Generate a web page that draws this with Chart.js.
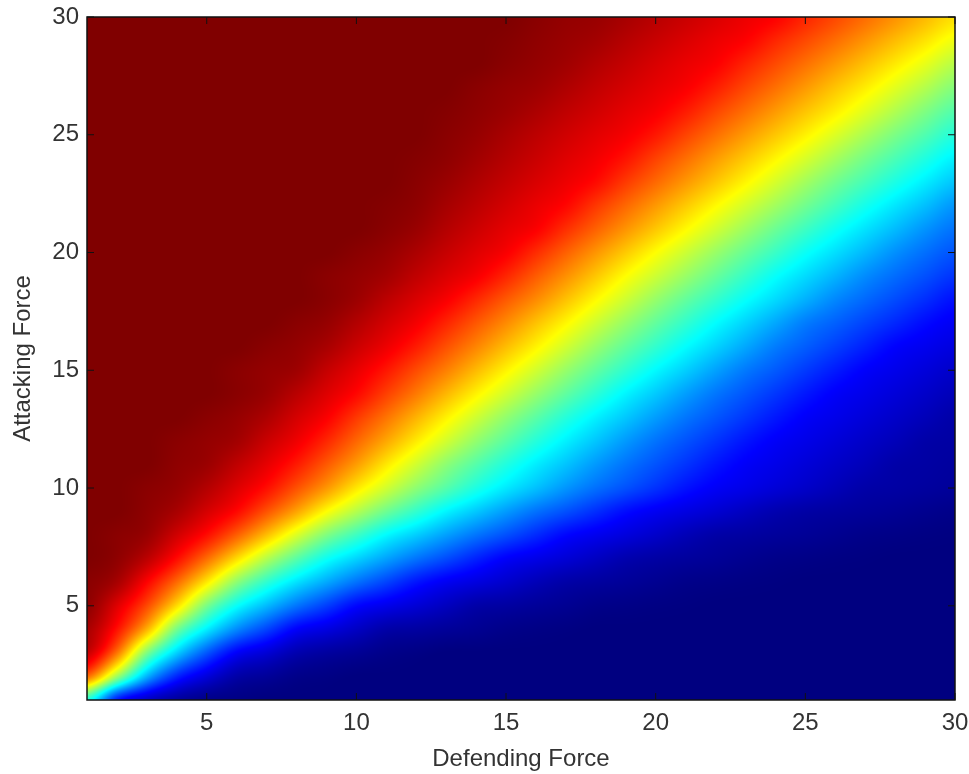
<!DOCTYPE html>
<html>
<head>
<meta charset="utf-8">
<script src="https://cdn.jsdelivr.net/npm/chart.js@4.4.1/dist/chart.umd.min.js"></script>
<style>
  html, body { margin: 0; padding: 0; background: #fff; }
  #wrap { width: 969px; height: 774px; }
</style>
</head>
<body>
<div id="wrap"><canvas id="chart" width="969" height="774"></canvas></div>
<script>
// Axes
const defending = [1,2,3,4,5,6,7,8,9,10,11,12,13,14,15,16,17,18,19,20,21,22,23,24,25,26,27,28,29,30];
const attacking = [1,2,3,4,5,6,7,8,9,10,11,12,13,14,15,16,17,18,19,20,21,22,23,24,25,26,27,28,29,30];
const xTicks = [5, 10, 15, 20, 25, 30];
const yTicks = [5, 10, 15, 20, 25, 30];

// Attacker win probability, one row per attacking force
const a01 = [0.41,0.15,0.07,0.03,0.01,0.005,0,0,0,0,0,0,0,0,0,0,0,0,0,0,0,0,0,0,0,0,0,0,0,0];
const a02 = [0.77,0.53,0.30,0.16,0.09,0.04,0.025,0.01,0.005,0,0,0,0,0,0,0,0,0,0,0,0,0,0,0,0,0,0,0,0,0];
const a03 = [0.93,0.76,0.5,0.33,0.21,0.12,0.084,0.047,0.031,0.021,0.01,0.005,0,0,0,0,0,0,0,0,0,0,0,0,0,0,0,0,0,0];
const a04 = [0.96,0.86,0.70,0.49,0.36,0.26,0.19,0.122,0.095,0.067,0.04,0.033,0.025,0.018,0.01,0.006,0.003,0,0,0,0,0,0,0,0,0,0,0,0,0];
const a05 = [0.985,0.907,0.804,0.658,0.494,0.381,0.307,0.239,0.185,0.13,0.105,0.084,0.062,0.04,0.033,0.025,0.018,0.01,0.007,0.004,0.002,0,0,0,0,0,0,0,0,0];
const a06 = [0.99,0.961,0.875,0.771,0.645,0.513,0.42,0.347,0.29,0.236,0.19,0.144,0.113,0.094,0.075,0.055,0.039,0.031,0.024,0.017,0.01,0.007,0.004,0.002,0,0,0,0,0,0];
const a07 = [1,0.985,0.941,0.865,0.769,0.659,0.552,0.462,0.386,0.333,0.284,0.238,0.198,0.157,0.121,0.102,0.084,0.065,0.046,0.036,0.029,0.023,0.016,0.01,0.007,0.004,0.002,0,0,0];
const a08 = [1,0.99,0.975,0.921,0.863,0.782,0.688,0.589,0.5,0.434,0.371,0.326,0.281,0.239,0.202,0.165,0.129,0.109,0.091,0.073,0.054,0.039,0.033,0.027,0.022,0.016,0.01,0.007,0.004,0.002];
const a09 = [1,1,0.985,0.96,0.916,0.868,0.794,0.714,0.625,0.551,0.482,0.423,0.366,0.321,0.277,0.236,0.203,0.169,0.135,0.113,0.096,0.080,0.063,0.047,0.037,0.031,0.026,0.021,0.015,0.01];
const a10 = [1,1,0.99,0.978,0.949,0.908,0.862,0.796,0.727,0.648,0.579,0.513,0.457,0.402,0.354,0.313,0.271,0.234,0.203,0.172,0.141,0.117,0.102,0.086,0.071,0.055,0.04,0.035,0.03,0.025];
const a11 = [1,1,1,0.985,0.973,0.938,0.899,0.85,0.788,0.721,0.647,0.579,0.513,0.458,0.406,0.358,0.317,0.275,0.238,0.206,0.175,0.144,0.119,0.103,0.087,0.071,0.056,0.04,0.035,0.03];
const a12 = [1,1,1,0.99,0.98,0.966,0.928,0.89,0.838,0.775,0.711,0.645,0.581,0.519,0.464,0.411,0.362,0.319,0.276,0.238,0.206,0.175,0.144,0.119,0.103,0.087,0.071,0.056,0.04,0.035];
const a13 = [1,1,1,1,0.99,0.978,0.955,0.917,0.879,0.821,0.762,0.70,0.638,0.577,0.518,0.464,0.411,0.363,0.321,0.279,0.241,0.209,0.178,0.147,0.12,0.104,0.088,0.072,0.056,0.04];
const a14 = [1,1,1,1,1,0.99,0.975,0.944,0.908,0.869,0.813,0.756,0.696,0.637,0.58,0.523,0.469,0.417,0.366,0.323,0.28,0.241,0.209,0.178,0.147,0.12,0.104,0.088,0.072,0.056];
const a15 = [1,1,1,1,1,0.99,0.98,0.97,0.933,0.897,0.854,0.802,0.75,0.693,0.636,0.58,0.523,0.47,0.42,0.371,0.328,0.284,0.244,0.213,0.181,0.15,0.122,0.105,0.089,0.073];
const a16 = [1,1,1,1,1,1,0.99,0.98,0.96,0.926,0.892,0.849,0.797,0.745,0.69,0.636,0.58,0.523,0.471,0.423,0.375,0.332,0.289,0.247,0.216,0.186,0.155,0.125,0.109,0.094];
const a17 = [1,1,1,1,1,1,1,0.99,0.978,0.95,0.918,0.885,0.84,0.79,0.739,0.685,0.632,0.576,0.522,0.471,0.423,0.375,0.332,0.289,0.247,0.219,0.19,0.162,0.134,0.114];
const a18 = [1,1,1,1,1,1,1,1,0.99,0.972,0.942,0.912,0.881,0.837,0.788,0.739,0.685,0.63,0.576,0.522,0.472,0.426,0.38,0.339,0.298,0.258,0.227,0.198,0.169,0.14];
const a19 = [1,1,1,1,1,1,1,1,0.99,0.98,0.965,0.937,0.91,0.883,0.839,0.786,0.734,0.68,0.625,0.575,0.525,0.476,0.428,0.38,0.34,0.301,0.262,0.231,0.203,0.175];
const a20 = [1,1,1,1,1,1,1,1,1,0.99,0.978,0.957,0.931,0.906,0.88,0.833,0.781,0.729,0.677,0.625,0.575,0.525,0.477,0.431,0.384,0.344,0.305,0.266,0.234,0.207];
const a21 = [1,1,1,1,1,1,1,1,1,1,0.99,0.975,0.949,0.925,0.901,0.878,0.83,0.78,0.73,0.68,0.63,0.58,0.53,0.481,0.435,0.389,0.348,0.309,0.27,0.238];
const a22 = [1,1,1,1,1,1,1,1,1,1,0.995,0.985,0.963,0.941,0.918,0.895,0.87,0.822,0.774,0.726,0.678,0.63,0.582,0.534,0.486,0.44,0.394,0.352,0.313,0.273];
const a23 = [1,1,1,1,1,1,1,1,1,1,1,0.99,0.975,0.955,0.934,0.913,0.892,0.866,0.819,0.773,0.727,0.681,0.634,0.585,0.535,0.487,0.444,0.401,0.359,0.32];
const a24 = [1,1,1,1,1,1,1,1,1,1,1,0.995,0.985,0.968,0.948,0.928,0.907,0.887,0.857,0.812,0.768,0.723,0.679,0.634,0.587,0.538,0.491,0.448,0.405,0.363];
const a25 = [1,1,1,1,1,1,1,1,1,1,1,1,0.99,0.978,0.96,0.941,0.922,0.903,0.884,0.853,0.81,0.767,0.724,0.681,0.638,0.591,0.543,0.496,0.453,0.41];
const a26 = [1,1,1,1,1,1,1,1,1,1,1,1,0.995,0.985,0.973,0.957,0.938,0.92,0.901,0.882,0.85,0.808,0.767,0.725,0.683,0.642,0.596,0.548,0.5,0.457];
const a27 = [1,1,1,1,1,1,1,1,1,1,1,1,1,0.99,0.98,0.971,0.954,0.935,0.917,0.899,0.88,0.847,0.806,0.766,0.725,0.683,0.642,0.597,0.551,0.505];
const a28 = [1,1,1,1,1,1,1,1,1,1,1,1,1,1,0.99,0.98,0.968,0.95,0.932,0.913,0.895,0.877,0.841,0.803,0.765,0.726,0.686,0.645,0.602,0.556];
const a29 = [1,1,1,1,1,1,1,1,1,1,1,1,1,1,0.995,0.985,0.975,0.965,0.947,0.929,0.911,0.893,0.875,0.839,0.804,0.768,0.73,0.691,0.652,0.611];
const a30 = [1,1,1,1,1,1,1,1,1,1,1,1,1,1,1,0.99,0.98,0.975,0.961,0.944,0.927,0.91,0.892,0.875,0.839,0.804,0.768,0.731,0.693,0.655];
const rows = [a01,a02,a03,a04,a05,a06,a07,a08,a09,a10,a11,a12,a13,a14,a15,a16,a17,a18,a19,a20,a21,a22,a23,a24,a25,a26,a27,a28,a29,a30];

// MATLAB jet colormap
function jet(v) {
  const c = t => Math.max(0, Math.min(1, t));
  return [c(1.5 - Math.abs(4 * v - 3)), c(1.5 - Math.abs(4 * v - 2)), c(1.5 - Math.abs(4 * v - 1))];
}

// smooth shading between grid cells (cubic, like shading interp)
function cubic(p0, p1, p2, p3, t) {
  return p1 + 0.5 * t * (p2 - p0 + t * (2 * p0 - 5 * p1 + 4 * p2 - p3 + t * (3 * (p1 - p2) + p3 - p0)));
}
function sample(d, a) {
  const n = defending.length, m = attacking.length;
  const fx = d - defending[0], fy = a - attacking[0];
  const ix = Math.floor(fx), iy = Math.floor(fy);
  const tx = fx - ix, ty = fy - iy;
  const cx = k => Math.max(0, Math.min(n - 1, k));
  const cy = k => Math.max(0, Math.min(m - 1, k));
  const col = [];
  for (let r = -1; r <= 2; r++) {
    const row = rows[cy(iy + r)];
    col.push(cubic(row[cx(ix - 1)], row[cx(ix)], row[cx(ix + 1)], row[cx(ix + 2)], tx));
  }
  return Math.max(0, Math.min(1, cubic(col[0], col[1], col[2], col[3], ty)));
}

const heatmap = {
  id: "heatmap",
  beforeDatasetsDraw(chart) {
    const { ctx, chartArea: a, scales: { x, y } } = chart;
    const w = Math.round(a.right - a.left), h = Math.round(a.bottom - a.top);
    const img = ctx.createImageData(w, h);
    for (let j = 0; j < h; j++) {
      const av = y.getValueForPixel(a.top + j + 0.5);
      for (let i = 0; i < w; i++) {
        const dv = x.getValueForPixel(a.left + i + 0.5);
        const [r, g, b] = jet(sample(dv, av));
        const k = (j * w + i) * 4;
        img.data[k] = r * 255; img.data[k + 1] = g * 255; img.data[k + 2] = b * 255; img.data[k + 3] = 255;
      }
    }
    ctx.putImageData(img, Math.round(a.left), Math.round(a.top));
  },
  afterDraw(chart) {
    const { ctx, chartArea: a, scales: { x, y } } = chart;
    ctx.save();
    ctx.strokeStyle = "#111";
    ctx.lineWidth = 1.5;
    ctx.strokeRect(a.left, a.top, a.right - a.left, a.bottom - a.top);
    ctx.lineWidth = 1;
    ctx.beginPath();
    xTicks.forEach(v => {
      const px = x.getPixelForValue(v);
      ctx.moveTo(px, a.bottom); ctx.lineTo(px, a.bottom - 7);
      ctx.moveTo(px, a.top); ctx.lineTo(px, a.top + 7);
    });
    yTicks.forEach(v => {
      const py = y.getPixelForValue(v);
      ctx.moveTo(a.left, py); ctx.lineTo(a.left + 7, py);
      ctx.moveTo(a.right, py); ctx.lineTo(a.right - 7, py);
    });
    ctx.stroke();
    ctx.restore();
  }
};

const font = { family: "'Liberation Sans', Arial, sans-serif", size: 24 };
const noPad = s => { s.paddingLeft = 0; s.paddingRight = 0; s.paddingTop = 0; s.paddingBottom = 0; };

new Chart(document.getElementById("chart"), {
  type: "scatter",
  data: { datasets: [{ data: [] }] },
  options: {
    responsive: false,
    animation: false,
    events: [],
    layout: { autoPadding: false, padding: { left: 0, right: 14, top: 17, bottom: 0 } },
    plugins: { legend: { display: false }, tooltip: { enabled: false } },
    scales: {
      x: {
        type: "linear",
        min: defending[0],
        max: defending[defending.length - 1],
        afterBuildTicks: s => { s.ticks = xTicks.map(v => ({ value: v })); },
        afterFit: s => { s.height = 74; noPad(s); },
        grid: { display: false, drawTicks: false },
        border: { display: false },
        ticks: { color: "#333", font, padding: 9, maxRotation: 0 },
        title: { display: true, text: "Defending Force", color: "#333", font, padding: { top: 0, bottom: 0 } }
      },
      y: {
        type: "linear",
        min: attacking[0],
        max: attacking[attacking.length - 1],
        afterBuildTicks: s => { s.ticks = yTicks.map(v => ({ value: v })); },
        afterFit: s => { s.width = 87; noPad(s); },
        grid: { display: false, drawTicks: false },
        border: { display: false },
        ticks: { color: "#333", font, padding: 8 },
        title: { display: true, text: "Attacking Force", color: "#333", font, padding: { top: 9, bottom: 0 } }
      }
    }
  },
  plugins: [heatmap]
});
</script>
</body>
</html>
